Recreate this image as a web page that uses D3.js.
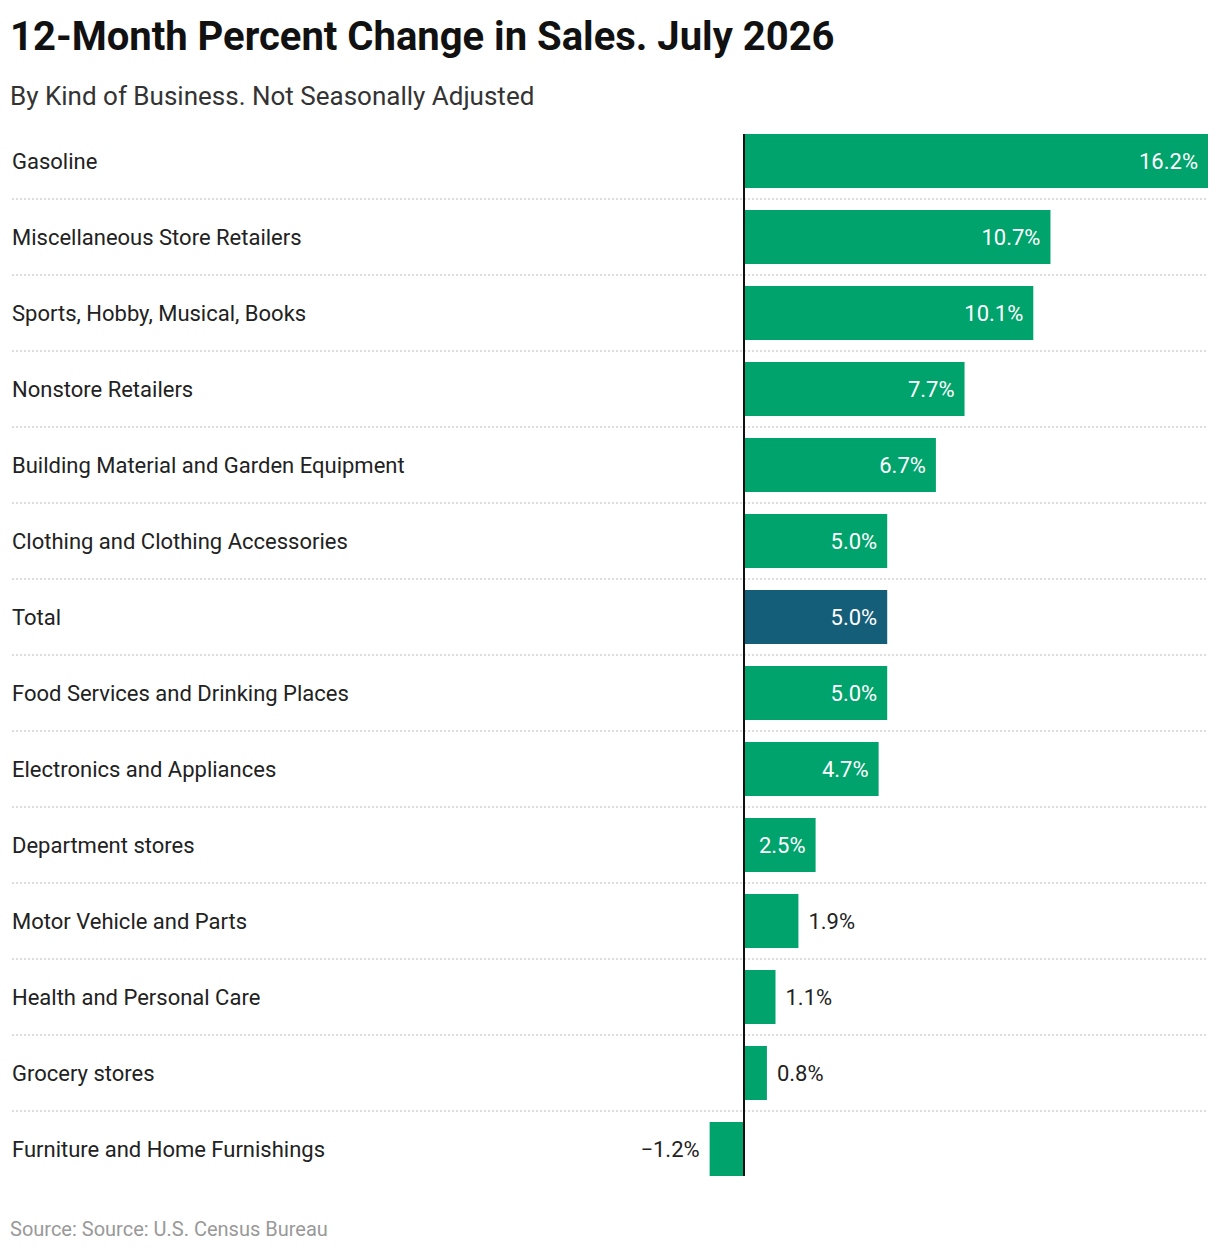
<!DOCTYPE html>
<html><head><meta charset="utf-8">
<script src="https://cdn.jsdelivr.net/npm/d3@7"></script>
<style>body{margin:0;background:#fff;font-family:Roboto,sans-serif}</style>
</head><body><svg id="c" width="1220" height="1252"></svg>
<script>
const categories=["Gasoline","Miscellaneous Store Retailers","Sports, Hobby, Musical, Books","Nonstore Retailers","Building Material and Garden Equipment","Clothing and Clothing Accessories","Total","Food Services and Drinking Places","Electronics and Appliances","Department stores","Motor Vehicle and Parts","Health and Personal Care","Grocery stores","Furniture and Home Furnishings"];
const values=[16.2,10.7,10.1,7.7,6.7,5.0,5.0,5.0,4.7,2.5,1.9,1.1,0.8,-1.2];
const svg=d3.select("#c");
svg.append("text").attr("x",10).attr("y",50).attr("font-size",40).attr("font-weight",700).attr("fill","#111").text("12-Month Percent Change in Sales. July 2026");
svg.append("text").attr("x",10).attr("y",105).attr("font-size",26).attr("fill","#333").text("By Kind of Business. Not Seasonally Adjusted");
svg.append("text").attr("x",10).attr("y",1236).attr("font-size",20).attr("fill","#999").text("Source: Source: U.S. Census Bureau");
const x=d3.scaleLinear().domain([0,16.2]).range([744,1208]);
const y=d3.scaleBand().domain(categories).range([123,1187]).paddingInner(22/76).paddingOuter(11/76);
const step=y.step();
categories.slice(0,-1).forEach(c=>{
  const yy=y(c)+y.bandwidth()+11;
  svg.append("line").attr("x1",12).attr("x2",1208).attr("y1",yy).attr("y2",yy).attr("stroke","#bbb").attr("stroke-dasharray","2,2");
});
const fmt=v=>(v<0?"\u2212":"")+Math.abs(v).toFixed(1)+"%";
categories.forEach((c,i)=>{
  const v=values[i],y0=y(c),h=y.bandwidth(),cy=y0+h/2;
  svg.append("text").attr("x",12).attr("y",cy).attr("dy","0.35em").attr("font-size",22).attr("fill","#222").text(c);
  svg.append("rect").attr("x",Math.min(x(0),x(v))).attr("width",Math.abs(x(v)-x(0))).attr("y",y0).attr("height",h).attr("fill",c==="Total"?"#155e79":"#00a36c");
  const w=Math.abs(x(v)-x(0));
  const t=svg.append("text").attr("y",cy).attr("dy","0.35em").attr("font-size",22).text(fmt(v));
  if(v<0) t.attr("x",x(v)-10).attr("text-anchor","end").attr("fill","#222");
  else if(w>65) t.attr("x",x(v)-10).attr("text-anchor","end").attr("fill","#fff");
  else t.attr("x",x(v)+10).attr("fill","#222");
});
svg.append("line").attr("x1",744).attr("x2",744).attr("y1",134).attr("y2",1176).attr("stroke","#111").attr("stroke-width",2);
</script></body></html>
